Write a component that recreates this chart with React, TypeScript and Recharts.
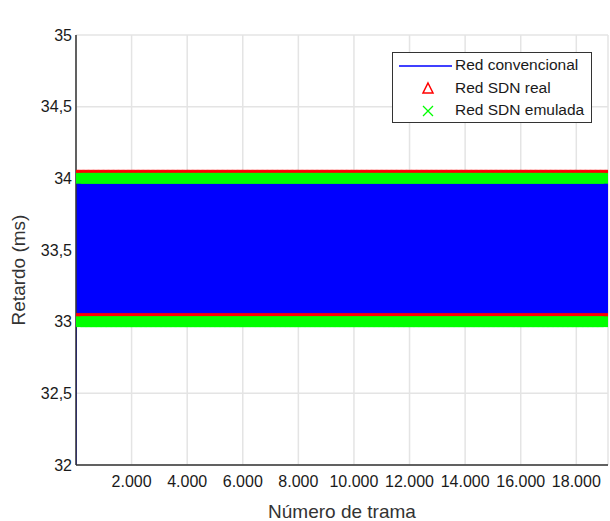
import { ComposedChart, Line, Scatter, XAxis, YAxis, CartesianGrid, Legend, Label } from 'recharts'

const lastFrame = 19140
const frameStep = 10
const startDelay = 32
const convencionalLevels = [33, 34]
const sdnRealLevels = [33, 34]
const sdnEmuladaLevels = [33, 34]

const xTicks = [2000, 4000, 6000, 8000, 10000, 12000, 14000, 16000, 18000]
const yTicks = [32, 32.5, 33, 33.5, 34, 34.5, 35]

const seriesNames = ['Red convencional', 'Red SDN real', 'Red SDN emulada']

function buildSeries(levels: number[]) {
  const pts: { frame: number; delay: number }[] = []
  let i = 0
  for (let f = frameStep; f <= lastFrame; f += frameStep) {
    pts.push({ frame: f, delay: levels[i % levels.length] })
    i++
  }
  return pts
}

const convData = [{ frame: 1, delay: startDelay }, ...buildSeries(convencionalLevels)]
const realData = buildSeries(sdnRealLevels)
const emuladaData = buildSeries(sdnEmuladaLevels)

const FONT = '"Liberation Sans", Arial, sans-serif'
const AXIS = '#333333'

const fmtX = (v: number) => String(v).replace(/\B(?=(\d{3})+(?!\d))/g, '.')
const fmtY = (v: number) => String(v).replace('.', ',')

const TriangleMark = (p: any) => {
  const { cx, cy } = p
  return (
    <path
      d={`M${cx},${cy - 7.5}L${cx + 6},${cy + 4}L${cx - 6},${cy + 4}Z`}
      fill="none"
      stroke="#ff0000"
      strokeWidth={1.3}
    />
  )
}

const CrossMark = (p: any) => {
  const { cx, cy } = p
  const s = 5
  return (
    <path
      d={`M${cx - s},${cy - s}L${cx + s},${cy + s}M${cx - s},${cy + s}L${cx + s},${cy - s}`}
      stroke="#00ff00"
      strokeWidth={1.3}
    />
  )
}

function LegendBox() {
  const row = (top: number, icon: any, text: string) => (
    <div style={{ position: 'absolute', left: 0, top, height: 22, width: '100%' }}>
      <svg width={60} height={22} style={{ position: 'absolute', left: 4, top: 0 }}>
        {icon}
      </svg>
      <span style={{ position: 'absolute', left: 62, top: 1, fontSize: 15.5, color: '#1a1a1a', whiteSpace: 'nowrap' }}>
        {text}
      </span>
    </div>
  )
  return (
    <div
      style={{
        position: 'relative',
        width: 200,
        height: 71,
        boxSizing: 'border-box',
        border: `1.5px solid ${AXIS}`,
        background: '#fff',
        fontFamily: FONT,
      }}
    >
      {row(2, <line x1={2} y1={11} x2={55} y2={11} stroke="#0000ff" strokeWidth={1.5} />, seriesNames[0])}
      {row(25, <path d="M31,5L36,15L26,15Z" fill="none" stroke="#ff0000" strokeWidth={1.5} />, seriesNames[1])}
      {row(47, <path d="M26,6L36,16M26,16L36,6" stroke="#00ff00" strokeWidth={1.3} />, seriesNames[2])}
    </div>
  )
}

export default function App() {
  return (
    <div style={{ position: 'absolute', left: 0, top: 0, width: 610, height: 521, background: '#fff' }}>
      <ComposedChart
        width={610}
        height={521}
        margin={{ top: 35, right: 2, left: 0, bottom: 0 }}
        style={{ fontFamily: FONT }}
      >
        <CartesianGrid stroke="#e4e4e4" strokeWidth={1.5} />
        <XAxis
          dataKey="frame"
          type="number"
          domain={[0, lastFrame]}
          ticks={xTicks}
          tickFormatter={fmtX}
          tickLine={false}
          tickSize={0}
          tickMargin={11}
          height={56}
          allowDataOverflow
          axisLine={{ stroke: AXIS, strokeWidth: 1.5 }}
          tick={{ fill: '#1a1a1a', fontSize: 16 }}
        >
          <Label
            content={(p: any) => {
              const vb = p.viewBox
              return (
                <text
                  x={vb.x + vb.width / 2}
                  y={511}
                  textAnchor="middle"
                  dominantBaseline="central"
                  fontSize={19}
                  fill="#333"
                >
                  Número de trama
                </text>
              )
            }}
          />
        </XAxis>
        <XAxis
          xAxisId="top"
          orientation="top"
          type="number"
          domain={[0, lastFrame]}
          tick={false}
          tickLine={false}
          height={0}
          axisLine={{ stroke: AXIS, strokeWidth: 1.5 }}
        >
          <Label
            content={(p: any) => {
              const vb = p.viewBox
              return (
                <text
                  x={vb.x + vb.width / 2}
                  y={17}
                  textAnchor="middle"
                  dominantBaseline="central"
                  fontSize={19}
                  fontWeight="bold"
                  fill="#111"
                >
                  Retardo usando RTMP
                </text>
              )
            }}
          />
        </XAxis>
        <YAxis
          type="number"
          domain={[32, 35]}
          ticks={yTicks}
          tickFormatter={fmtY}
          tickLine={false}
          tickSize={0}
          tickMargin={4}
          width={76}
          axisLine={{ stroke: AXIS, strokeWidth: 1.5 }}
          tick={{ fill: '#1a1a1a', fontSize: 16 }}
        >
          <Label
            content={(p: any) => {
              const vb = p.viewBox
              const cx = 18
              const cy = vb.y + vb.height / 2 + 20
              return (
                <text
                  x={cx}
                  y={cy}
                  transform={`rotate(-90, ${cx}, ${cy})`}
                  textAnchor="middle"
                  dominantBaseline="central"
                  fontSize={19}
                  fill="#333"
                >
                  Retardo (ms)
                </text>
              )
            }}
          />
        </YAxis>
        <YAxis
          yAxisId="right"
          orientation="right"
          type="number"
          domain={[32, 35]}
          tick={false}
          tickLine={false}
          width={0}
          axisLine={{ stroke: AXIS, strokeWidth: 1.5 }}
        />
        <Legend
          layout="horizontal"
          verticalAlign="middle"
          align="center"
          wrapperStyle={{ left: 392, top: 52, width: 200, height: 71 }}
          content={() => <LegendBox />}
        />
        <Line
          data={convData}
          dataKey="delay"
          name={seriesNames[0]}
          stroke="#0000ff"
          strokeWidth={1.5}
          dot={false}
          activeDot={false}
          isAnimationActive={false}
        />
        <Scatter
          data={realData}
          dataKey="delay"
          name={seriesNames[1]}
          shape={TriangleMark}
          isAnimationActive={false}
        />
        <Scatter
          data={emuladaData}
          dataKey="delay"
          name={seriesNames[2]}
          shape={CrossMark}
          isAnimationActive={false}
        />
      </ComposedChart>
    </div>
  )
}
